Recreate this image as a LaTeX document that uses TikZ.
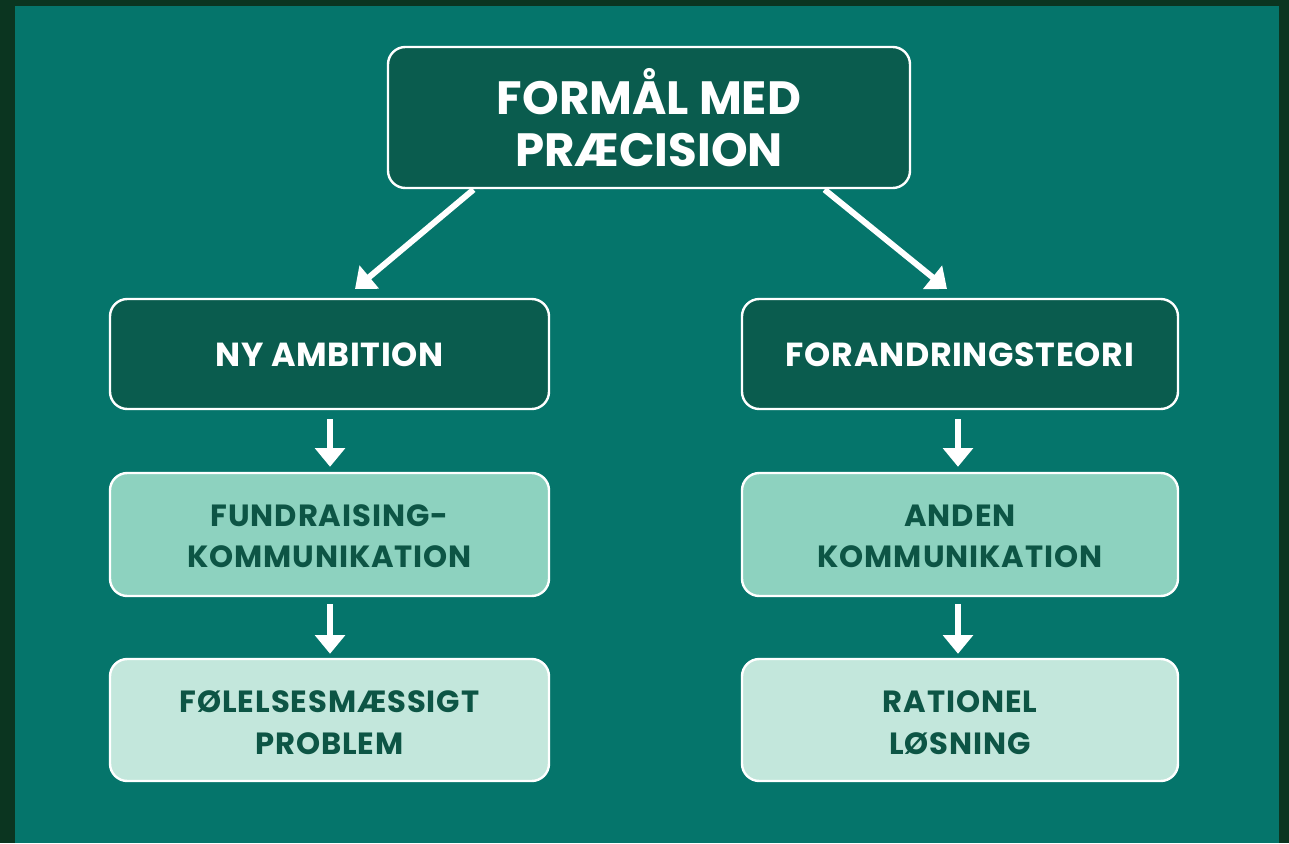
\documentclass[tikz,border=0pt]{standalone}
\usepackage{fontspec}
\setmainfont{Poppins}
\usetikzlibrary{arrows.meta,calc}
\definecolor{frame}{HTML}{0B3520}
\definecolor{bgteal}{HTML}{05756B}
\definecolor{darkbox}{HTML}{0A5C4E}
\definecolor{midbox}{HTML}{8DD2BF}
\definecolor{lightbox}{HTML}{C3E7DC}
\definecolor{darktext}{HTML}{0D5545}
\newcommand{\lowtxt}[2]{\raisebox{-#1}[\height][\depth]{\begin{tabular}{@{}c@{}}#2\end{tabular}}}
\tikzset{
  box/.style={draw=white, line width=1.8pt, rounded corners=13pt, align=center, inner sep=0pt, font=\bfseries},
  darkb/.style={box, fill=darkbox, text=white},
  midb/.style={box, fill=midbox, text=darktext},
  lightb/.style={box, fill=lightbox, text=darktext},
  arr/.style={white, line width=4.5pt, -{Triangle[width=22pt,length=14pt]}},
  bigf/.style={font=\bfseries\fontsize{35}{39}\selectfont},
  midf/.style={font=\bfseries\fontsize{25}{30}\selectfont\addfontfeatures{LetterSpace=2}},
  smallf/.style={font=\bfseries\fontsize{23}{31}\selectfont\addfontfeatures{LetterSpace=3}},
}
\begin{document}
\begin{tikzpicture}[x=0.75pt,y=-0.75pt]
\useasboundingbox (0,0) rectangle (1289,843);
\fill[frame] (0,0) rectangle (1289,843);
\fill[bgteal] (15,6) rectangle (1279,843);
\node[darkb, bigf, minimum width=391.5pt, minimum height=105.75pt] (top) at (649,117.5) {FORMÅL MED\\PRÆCISION};
\node[darkb, midf, minimum width=329.25pt, minimum height=82.5pt] (ny) at (329.5,354) {\lowtxt{3pt}{NY AMBITION}};
\node[darkb, midf, minimum width=327pt, minimum height=82.5pt] (fo) at (960,354) {\lowtxt{3pt}{FORANDRINGSTEORI}};
\node[midb, smallf, minimum width=329.25pt, minimum height=92.25pt] (fu) at (329.5,534.5) {\lowtxt{3pt}{FUNDRAISING-\\KOMMUNIKATION}};
\node[midb, smallf, minimum width=327pt, minimum height=92.25pt] (an) at (960,534.5) {\lowtxt{3pt}{ANDEN\\KOMMUNIKATION}};
\node[lightb, smallf, minimum width=329.25pt, minimum height=91.5pt] (fo2) at (329.5,720) {\lowtxt{4pt}{FØLELSESMÆSSIGT\\PROBLEM}};
\node[lightb, smallf, minimum width=327pt, minimum height=91.5pt] (ra) at (960,720) {\lowtxt{4pt}{RATIONEL\\LØSNING}};
\coordinate (d1) at (355,289);
\coordinate (d2) at (947,289);
\draw[arr, shorten <=0.5pt] ([xshift=-131.25pt]top.south) -- (d1);
\draw[arr, shorten <=0.5pt] ([xshift=131.25pt]top.south) -- (d2);
\draw[arr, shorten <=6.75pt, shorten >=3.75pt] ([xshift=0.4pt]ny.south) -- ([xshift=0.4pt]fu.north);
\draw[arr, shorten <=5.25pt, shorten >=3pt] ([xshift=0.4pt]fu.south) -- ([xshift=0.4pt]fo2.north);
\draw[arr, shorten <=6.75pt, shorten >=3.75pt] ([xshift=-1.5pt]fo.south) -- ([xshift=-1.5pt]an.north);
\draw[arr, shorten <=5.25pt, shorten >=3pt] ([xshift=-1.5pt]an.south) -- ([xshift=-1.5pt]ra.north);
\end{tikzpicture}
\end{document}
